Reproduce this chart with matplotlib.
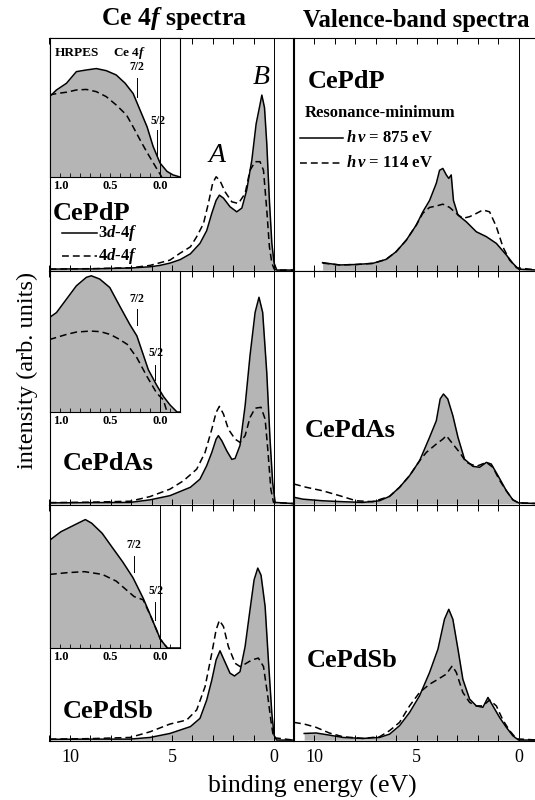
import matplotlib
matplotlib.use('Agg')
import matplotlib.pyplot as plt
import matplotlib.transforms as mtransforms
from matplotlib.ticker import MultipleLocator

plt.rcParams['font.family'] = ['Liberation Serif', 'DejaVu Serif']
plt.rcParams['mathtext.fontset'] = 'custom'
plt.rcParams['mathtext.rm'] = 'Liberation Serif:bold'
plt.rcParams['mathtext.it'] = 'Liberation Serif:italic:bold'
plt.rcParams['mathtext.bf'] = 'Liberation Serif:bold'

# ---------------- data (intensity as fraction of panel height) ----------------
compounds = ['CePdP', 'CePdAs', 'CePdSb']

# Ce 4f spectra, solid = 3d-4f, dashed = 4d-4f
e4f_p_sol = [11.0, 10.0, 9.0, 8.0, 7.0, 6.5, 6.08, 5.6, 5.1, 4.6, 4.1, 3.63, 3.3, 3.05, 2.84, 2.68,
             2.48, 2.16, 1.83, 1.58, 1.34, 1.09, 0.88, 0.72, 0.60, 0.47, 0.36, 0.23, 0.11, 0.0, -0.13, -0.95]
i4f_p_sol = [0.004, 0.005, 0.005, 0.007, 0.009, 0.012, 0.014, 0.02, 0.03, 0.045, 0.07, 0.115, 0.17, 0.245,
             0.30, 0.323, 0.31, 0.273, 0.251, 0.267, 0.345, 0.474, 0.63, 0.70, 0.754, 0.70, 0.547, 0.30,
             0.115, 0.03, 0.0, 0.0]
e4f_p_das = [11.0, 9.0, 7.0, 6.08, 5.1, 4.6, 4.1, 3.79, 3.46, 3.22, 3.01, 2.84, 2.65, 2.4, 2.07, 1.75,
             1.42, 1.18, 0.93, 0.69, 0.52, 0.36, 0.23, 0.11, 0.0, -0.1, -0.95]
i4f_p_das = [0.004, 0.006, 0.01, 0.02, 0.043, 0.073, 0.10, 0.144, 0.20, 0.287, 0.374, 0.402, 0.385, 0.337,
             0.294, 0.287, 0.33, 0.43, 0.467, 0.467, 0.43, 0.26, 0.10, 0.03, 0.005, 0.0, 0.0]

e4f_as_sol = [11.0, 9.0, 7.06, 6.08, 5.1, 4.1, 3.63, 3.3, 3.05, 2.84, 2.73, 2.56, 2.32, 2.07, 1.91, 1.67,
              1.42, 1.18, 0.93, 0.74, 0.56, 0.36, 0.2, 0.07, -0.05, -0.95]
i4f_as_sol = [0.003, 0.004, 0.005, 0.016, 0.034, 0.07, 0.105, 0.163, 0.22, 0.277, 0.292, 0.27, 0.227, 0.19,
              0.194, 0.25, 0.42, 0.636, 0.822, 0.887, 0.822, 0.564, 0.277, 0.09, 0.005, 0.0]
e4f_as_das = [11.0, 9.0, 7.06, 6.08, 5.1, 4.44, 3.79, 3.38, 3.05, 2.84, 2.68, 2.48, 2.24, 1.91, 1.67, 1.42,
              1.18, 0.93, 0.64, 0.44, 0.31, 0.16, 0.03, -0.95]
i4f_as_das = [0.004, 0.006, 0.01, 0.03, 0.062, 0.098, 0.148, 0.22, 0.32, 0.392, 0.418, 0.385, 0.32, 0.277,
              0.263, 0.292, 0.37, 0.41, 0.414, 0.363, 0.234, 0.062, 0.005, 0.0]

e4f_sb_sol = [11.0, 9.0, 7.06, 6.08, 5.1, 4.1, 3.63, 3.3, 3.05, 2.84, 2.65, 2.45, 2.16, 1.94, 1.67, 1.42,
              1.18, 0.98, 0.80, 0.64, 0.44, 0.28, 0.11, 0.0, -0.13, -0.95]
i4f_sb_sol = [0.003, 0.004, 0.004, 0.011, 0.028, 0.057, 0.092, 0.17, 0.255, 0.34, 0.379, 0.34, 0.284, 0.272,
              0.29, 0.397, 0.553, 0.68, 0.73, 0.70, 0.567, 0.34, 0.113, 0.02, 0.0, 0.0]
e4f_sb_das = [11.0, 9.0, 7.06, 6.08, 5.1, 4.28, 3.79, 3.38, 3.05, 2.84, 2.68, 2.48, 2.24, 1.91, 1.67, 1.42,
              1.09, 0.77, 0.52, 0.33, 0.16, 0.03, -0.95]
i4f_sb_das = [0.004, 0.006, 0.011, 0.035, 0.068, 0.085, 0.128, 0.227, 0.369, 0.468, 0.508, 0.482, 0.397,
              0.326, 0.312, 0.323, 0.34, 0.348, 0.312, 0.199, 0.085, 0.01, 0.0]

# valence-band spectra, solid = 875 eV, dashed = 114 eV
evb_p_sol = [9.6, 8.77, 7.96, 7.14, 6.49, 6.0, 5.5, 5.01, 4.69, 4.36, 4.03, 3.87, 3.71, 3.54, 3.42, 3.3,
             3.19, 2.97, 2.56, 2.07, 1.58, 1.09, 0.6, 0.28, 0.0, -0.95]
ivb_p_sol = [0.032, 0.022, 0.024, 0.029, 0.046, 0.079, 0.129, 0.194, 0.251, 0.30, 0.374, 0.43, 0.438, 0.41,
             0.395, 0.41, 0.30, 0.237, 0.208, 0.165, 0.144, 0.115, 0.065, 0.029, 0.004, 0.0]
evb_p_das = [9.6, 8.77, 7.96, 7.14, 6.49, 6.0, 5.5, 5.01, 4.69, 4.36, 4.03, 3.71, 3.38, 3.05, 2.73, 2.4,
             2.07, 1.75, 1.42, 1.09, 0.77, 0.44, 0.1, -0.95]
ivb_p_das = [0.03, 0.022, 0.024, 0.029, 0.046, 0.079, 0.129, 0.194, 0.245, 0.27, 0.276, 0.284, 0.27, 0.244,
             0.223, 0.23, 0.244, 0.259, 0.251, 0.187, 0.10, 0.043, 0.01, 0.0]

evb_as_sol = [11.0, 10.57, 9.6, 8.6, 7.63, 6.81, 6.32, 5.83, 5.34, 4.85, 4.36, 4.03, 3.84, 3.68, 3.47, 3.22,
              2.97, 2.65, 2.24, 1.91, 1.58, 1.34, 1.01, 0.6, 0.28, 0.0, -0.95]
ivb_as_sol = [0.027, 0.019, 0.012, 0.008, 0.005, 0.012, 0.031, 0.07, 0.12, 0.184, 0.285, 0.356, 0.45, 0.471,
              0.45, 0.378, 0.285, 0.191, 0.16, 0.156, 0.177, 0.17, 0.12, 0.055, 0.016, 0.003, 0.0]
evb_as_das = [11.0, 10.4, 9.6, 8.77, 7.96, 7.14, 6.32, 5.83, 5.34, 4.85, 4.52, 4.03, 3.71, 3.54, 3.22, 2.89,
              2.56, 2.07, 1.58, 1.26, 0.93, 0.6, 0.28, 0.0, -0.95]
ivb_as_das = [0.084, 0.07, 0.055, 0.034, 0.012, 0.008, 0.031, 0.07, 0.12, 0.184, 0.22, 0.256, 0.277, 0.292,
              0.256, 0.22, 0.177, 0.16, 0.177, 0.156, 0.10, 0.055, 0.016, 0.003, 0.0]

evb_sb_sol = [10.5, 9.92, 9.27, 8.6, 7.63, 6.81, 6.32, 5.83, 5.34, 4.85, 4.36, 3.95, 3.63, 3.42, 3.22, 2.97,
              2.73, 2.4, 2.07, 1.75, 1.5, 1.26, 0.93, 0.6, 0.28, 0.0, -0.95]
ivb_sb_sol = [0.028, 0.03, 0.021, 0.011, 0.007, 0.011, 0.025, 0.061, 0.117, 0.188, 0.287, 0.386, 0.513, 0.555,
              0.513, 0.386, 0.258, 0.174, 0.145, 0.139, 0.181, 0.145, 0.096, 0.054, 0.018, 0.0, 0.0]
evb_sb_das = [11.0, 10.5, 9.92, 9.27, 8.6, 7.63, 6.81, 6.32, 5.83, 5.34, 4.85, 4.36, 3.95, 3.54, 3.25, 3.05,
              2.73, 2.4, 2.07, 1.75, 1.42, 1.09, 0.77, 0.44, 0.1, -0.95]
ivb_sb_das = [0.075, 0.068, 0.054, 0.03, 0.014, 0.007, 0.014, 0.04, 0.075, 0.145, 0.202, 0.237, 0.258, 0.28,
              0.315, 0.287, 0.202, 0.16, 0.145, 0.145, 0.17, 0.145, 0.085, 0.04, 0.005, 0.0]

# HRPES insets (0-1.1 eV)
ehr_p_sol = [1.11, 1.04, 0.94, 0.84, 0.74, 0.64, 0.54, 0.44, 0.35, 0.27, 0.20, 0.13, 0.07, 0.0, -0.07, -0.13, -0.2]
ihr_p_sol = [0.578, 0.626, 0.674, 0.758, 0.77, 0.78, 0.765, 0.734, 0.674, 0.60, 0.48, 0.36, 0.22, 0.10, 0.04, 0.015, 0.0]
ehr_p_das = [1.11, 1.04, 0.94, 0.84, 0.74, 0.64, 0.54, 0.44, 0.337, 0.27, 0.20, 0.135, 0.067, 0.017, -0.017]
ihr_p_das = [0.59, 0.60, 0.61, 0.626, 0.63, 0.614, 0.578, 0.518, 0.446, 0.36, 0.266, 0.182, 0.10, 0.04, 0.0]

ehr_as_sol = [1.11, 1.04, 0.94, 0.84, 0.74, 0.69, 0.606, 0.505, 0.404, 0.303, 0.233, 0.118, 0.034, -0.034, -0.1, -0.17, -0.2]
ihr_as_sol = [0.67, 0.705, 0.80, 0.895, 0.955, 0.966, 0.943, 0.883, 0.75, 0.62, 0.54, 0.30, 0.19, 0.11, 0.05, 0.0, 0.0]
ehr_as_das = [1.11, 0.94, 0.84, 0.70, 0.60, 0.50, 0.42, 0.33, 0.233, 0.13, 0.033, -0.033, -0.07]
ihr_as_das = [0.514, 0.55, 0.567, 0.574, 0.57, 0.55, 0.52, 0.48, 0.385, 0.25, 0.133, 0.086, 0.0]

ehr_sb_sol = [1.106, 0.996, 0.823, 0.75, 0.687, 0.582, 0.479, 0.375, 0.272, 0.169, 0.082, -0.004, -0.073, -0.2]
ihr_sb_sol = [0.752, 0.81, 0.87, 0.895, 0.87, 0.80, 0.70, 0.60, 0.49, 0.346, 0.203, 0.06, 0.0, 0.0]
ehr_sb_das = [1.106, 0.93, 0.76, 0.58, 0.44, 0.34, 0.26, 0.17, 0.082, -0.004, -0.073]
ihr_sb_das = [0.513, 0.525, 0.532, 0.513, 0.466, 0.406, 0.358, 0.336, 0.203, 0.06, 0.0]

ce4f = [(e4f_p_sol, i4f_p_sol, e4f_p_das, i4f_p_das),
        (e4f_as_sol, i4f_as_sol, e4f_as_das, i4f_as_das),
        (e4f_sb_sol, i4f_sb_sol, e4f_sb_das, i4f_sb_das)]
vband = [(evb_p_sol, ivb_p_sol, evb_p_das, ivb_p_das),
         (evb_as_sol, ivb_as_sol, evb_as_das, ivb_as_das),
         (evb_sb_sol, ivb_sb_sol, evb_sb_das, ivb_sb_das)]
hrpes = [(ehr_p_sol, ihr_p_sol, ehr_p_das, ihr_p_das),
         (ehr_as_sol, ihr_as_sol, ehr_as_das, ihr_as_das),
         (ehr_sb_sol, ihr_sb_sol, ehr_sb_das, ihr_sb_das)]

main_ticks = [10, 5, 0]
main_ticklabels = ['10', '5', '0']
inset_ticks = [1.0, 0.5, 0.0]
inset_ticklabels = ['1.0', '0.5', '0.0']

# ---------------- layout (figure pixels) ----------------
W, H = 535, 800
fig = plt.figure(figsize=(W / 100, H / 100), dpi=100)
GRAY = '#b5b5b5'
DASH = (0, (4.5, 2.6))


def add_ax(x0, y0, x1, y1):
    return fig.add_axes([x0 / W, 1 - y1 / H, (x1 - x0) / W, (y1 - y0) / H])


def ftext(x, y, s, **kw):
    fig.text(x / W, 1 - y / H, s, **kw)


def fline(x0, x1, y, **kw):
    fig.add_artist(plt.Line2D([x0 / W, x1 / W], [1 - y / H, 1 - y / H], color='k', lw=1.1, **kw))


def draw_spectra(ax, e_s, i_s, e_d, i_d):
    ax.fill_between(e_s, i_s, 0, color=GRAY, lw=0)
    ax.plot(e_s, i_s, color='k', lw=1.1)
    ax.plot(e_d, i_d, color='k', lw=1.1, ls=DASH)
    ax.axvline(0, color='k', lw=0.7)


rows = [(38, 271), (271, 504.5), (504.5, 741)]
inset_bottoms = [177, 412, 648]
# (energy of bar, bar y0, bar y1, text y) for 7/2 and 5/2, y in inset axes fraction
marks = [((0.23, 0.576, 0.712, 0.79), (0.03, 0.158, 0.338, 0.40)),
         ((0.23, 0.62, 0.73, 0.80), (0.05, 0.23, 0.336, 0.42)),
         ((0.26, 0.53, 0.643, 0.72), (0.05, 0.196, 0.32, 0.40))]
label_left = [(53, 220), (63, 470), (63, 718)]
label_right = [(308, 88), (305, 437), (307, 667)]

for r, (top, bot) in enumerate(rows):
    axL = add_ax(49.5, top, 293.5, bot)
    axR = add_ax(294, top, 538, bot)
    draw_spectra(axL, *ce4f[r])
    draw_spectra(axR, *vband[r])
    for ax in (axL, axR):
        ax.set_xlim(11, -0.95)
        ax.set_ylim(-0.004, 1)
        ax.set_yticks([])
        ax.set_xticks(main_ticks)
        ax.xaxis.set_minor_locator(MultipleLocator(1))
        ax.tick_params(which='both', direction='in', top=True, length=4, width=0.7)
        for sp in ax.spines.values():
            sp.set_linewidth(0.8)
        if r == 2:
            ax.set_xticklabels(main_ticklabels, fontsize=13)
            ax.tick_params(axis='x', pad=6)
        else:
            ax.tick_params(labelbottom=False)

    # HRPES inset
    axI = add_ax(49.5, top, 180, inset_bottoms[r])
    axI.set_facecolor('white')
    draw_spectra(axI, *hrpes[r])
    axI.set_xlim(1.11, -0.2)
    axI.set_ylim(0, 1)
    axI.set_yticks([])
    axI.set_xticks(inset_ticks, labels=inset_ticklabels, fontsize=9, fontweight='bold')
    axI.xaxis.set_minor_locator(MultipleLocator(0.1))
    axI.tick_params(which='both', direction='in', length=3, width=0.6, pad=2.5)
    for sp in axI.spines.values():
        sp.set_linewidth(0.8)
    trans = mtransforms.blended_transform_factory(axI.transData, axI.transAxes)
    for (xm, y0, y1, yt), lab in zip(marks[r], ['7/2', '5/2']):
        axI.plot([xm, xm], [y0, y1], color='k', lw=0.7, transform=trans)
        axI.text(xm - 0.01 if lab == '5/2' else xm, yt, lab, transform=trans, ha='center', va='center',
                 fontsize=8.5, fontweight='bold')

    ftext(label_left[r][0], label_left[r][1], compounds[r], fontsize=19, fontweight='bold', va='baseline')
    ftext(label_right[r][0], label_right[r][1], compounds[r], fontsize=19, fontweight='bold', va='baseline')

# top inset labels
ftext(55, 53, 'HRPES', fontsize=9.5, fontweight='bold', va='center')
ftext(113, 53, r'Ce 4$f$', fontsize=9.5, fontweight='bold', va='center')

# peak labels
ftext(217, 156, 'A', fontsize=20, fontstyle='italic', ha='center', va='center')
ftext(261, 77, 'B', fontsize=20, fontstyle='italic', ha='center', va='center')

# legends
fline(62, 97, 233)
fline(62, 97, 256, ls=DASH)
ftext(98, 233, r'3$d$-4$f$', fontsize=12, fontweight='bold', va='center')
ftext(98, 256, r'4$d$-4$f$', fontsize=12, fontweight='bold', va='center')

ftext(305, 113, 'Resonance-minimum', fontsize=12, fontweight='bold', va='center')
fline(300, 343, 138)
fline(300, 343, 163, ls=DASH)
ftext(346, 138, r'$h\,\nu$ = 875 eV', fontsize=12, fontweight='bold', va='center')
ftext(346, 163, r'$h\,\nu$ = 114 eV', fontsize=12, fontweight='bold', va='center')

# titles and axis labels
ftext(174, 19, r'Ce 4$f$ spectra', fontsize=18.5, fontweight='bold', ha='center', va='center')
ftext(303, 20, 'Valence-band spectra', fontsize=17.8, fontweight='bold', ha='left', va='center')
ftext(312, 786, 'binding energy (eV)', fontsize=18.5, ha='center', va='center')
ftext(27, 370, 'intensity (arb. units)', fontsize=17.5, ha='center', va='center', rotation=90)

fig.savefig('out.png', dpi=100)
